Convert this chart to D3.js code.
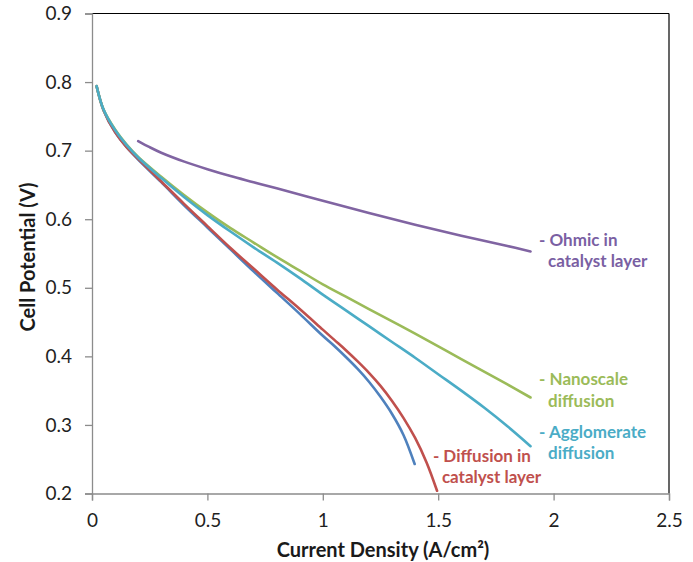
<!DOCTYPE html>
<html>
<head>
<meta charset="utf-8">
<script src="https://cdn.jsdelivr.net/npm/d3@7"></script>
<style>
  html, body { margin: 0; padding: 0; background: #fff; }
  svg { display: block; }
  text { font-family: Lato, "Open Sans", sans-serif; }
</style>
</head>
<body>
<svg id="chart" width="693" height="562"></svg>
<script>
// Polarization curves: current density (A/cm²) vs cell potential (V)
const xTicks = [0, 0.5, 1, 1.5, 2, 2.5];
const yTicks = [0.2, 0.3, 0.4, 0.5, 0.6, 0.7, 0.8, 0.9];

const blueX = [0.02, 0.05, 0.1, 0.15, 0.2, 0.3, 0.4, 0.5, 0.6, 0.7, 0.8, 0.9, 1.0, 1.05, 1.1, 1.15, 1.2, 1.25, 1.3, 1.35, 1.398];
const blueY = [0.794, 0.759, 0.727, 0.705, 0.687, 0.654, 0.620, 0.588, 0.556, 0.524, 0.493, 0.462, 0.430, 0.415, 0.399, 0.382, 0.363, 0.341, 0.316, 0.285, 0.243];

const redX = [0.02, 0.05, 0.1, 0.15, 0.2, 0.3, 0.4, 0.5, 0.6, 0.7, 0.8, 0.9, 1.0, 1.05, 1.1, 1.15, 1.2, 1.25, 1.3, 1.35, 1.4, 1.45, 1.495];
const redY = [0.794, 0.759, 0.727, 0.705, 0.688, 0.655, 0.622, 0.590, 0.558, 0.528, 0.498, 0.469, 0.439, 0.424, 0.409, 0.393, 0.376, 0.357, 0.335, 0.310, 0.281, 0.245, 0.204];

const greenX = [0.02, 0.05, 0.1, 0.15, 0.2, 0.3, 0.4, 0.5, 0.6, 0.7, 0.8, 0.9, 1.0, 1.1, 1.2, 1.4, 1.6, 1.8, 1.9];
const greenY = [0.794, 0.760, 0.731, 0.709, 0.691, 0.662, 0.635, 0.610, 0.587, 0.566, 0.545, 0.525, 0.505, 0.487, 0.469, 0.433, 0.396, 0.359, 0.340];

const cyanX = [0.02, 0.05, 0.1, 0.15, 0.2, 0.3, 0.4, 0.5, 0.6, 0.7, 0.8, 0.9, 1.0, 1.1, 1.2, 1.3, 1.4, 1.5, 1.6, 1.7, 1.8, 1.9];
const cyanY = [0.794, 0.760, 0.730, 0.708, 0.690, 0.660, 0.632, 0.606, 0.582, 0.559, 0.537, 0.514, 0.490, 0.467, 0.444, 0.421, 0.398, 0.374, 0.350, 0.325, 0.298, 0.269];

const purpleX = [0.2, 0.25, 0.3, 0.4, 0.5, 0.6, 0.7, 0.8, 1.0, 1.2, 1.4, 1.6, 1.8, 1.9];
const purpleY = [0.714, 0.705, 0.697, 0.684, 0.673, 0.663, 0.654, 0.645, 0.627, 0.609, 0.592, 0.576, 0.561, 0.553];

const series = [
  { xs: blueX,   ys: blueY,   color: "#4F81BD" },
  { xs: redX,    ys: redY,    color: "#C0504D" },
  { xs: greenX,  ys: greenY,  color: "#9BBB59" },
  { xs: cyanX,   ys: cyanY,   color: "#4BACC6" },
  { xs: purpleX, ys: purpleY, color: "#8064A2" }
];

// Curve annotations (two lines each)
const labels = [
  { lines: ["- Ohmic in", "catalyst layer"],    x: 1.937, y: 0.561, color: "#7A5FA3" },
  { lines: ["- Nanoscale", "diffusion"],         x: 1.937, y: 0.358, color: "#9BBB59" },
  { lines: ["- Agglomerate", "diffusion"],       x: 1.937, y: 0.281, color: "#4BACC6" },
  { lines: ["- Diffusion in", "catalyst layer"], x: 1.477, y: 0.246, color: "#C0504D" }
];

const svg = d3.select("#chart");
const x = d3.scaleLinear().domain([0, 2.5]).range([92, 669]);
const y = d3.scaleLinear().domain([0.2, 0.9]).range([493.5, 13.5]);

// Plot frame: black top and right edges
svg.append("line").attr("x1", x(0)).attr("x2", x(2.5)).attr("y1", y(0.9)).attr("y2", y(0.9))
  .attr("stroke", "#000").attr("stroke-width", 1.2);
svg.append("line").attr("x1", x(2.5)).attr("x2", x(2.5)).attr("y1", y(0.9)).attr("y2", y(0.2))
  .attr("stroke", "#000").attr("stroke-width", 1.2);

const axisColor = "#8c8c8c";

const xAxis = svg.append("g").attr("transform", `translate(0,${y(0.2)})`)
  .call(d3.axisBottom(x).tickValues(xTicks).tickFormat(d3.format("")).tickSize(7).tickPadding(13));
const yAxis = svg.append("g").attr("transform", `translate(${x(0)},0)`)
  .call(d3.axisLeft(y).tickValues(yTicks).tickFormat(d3.format(".1f")).tickSize(7).tickPadding(13));

[xAxis, yAxis].forEach(g => {
  g.select(".domain").attr("stroke", axisColor).attr("stroke-width", 1.3);
  g.selectAll(".tick line").attr("stroke", axisColor).attr("stroke-width", 1.3);
  g.selectAll(".tick text").attr("fill", "#1f1f1f").style("font-size", "19px")
    .style("font-family", "Lato, 'Open Sans', sans-serif");
});

// Curves
const line = d3.line().curve(d3.curveCatmullRom.alpha(0.5));
series.forEach(s => {
  const pts = s.xs.map((v, i) => [x(v), y(s.ys[i])]);
  svg.append("path").attr("d", line(pts)).attr("fill", "none")
    .attr("stroke", s.color).attr("stroke-width", 2.6).attr("stroke-linecap", "round");
});

// Annotations
labels.forEach(l => {
  const t = svg.append("text").attr("fill", l.color)
    .style("font-size", "17px").style("font-weight", "bold");
  l.lines.forEach((s, i) => {
    t.append("tspan").attr("x", x(l.x) + (i === 0 ? 0 : 9))
      .attr("y", y(l.y) + i * 21.5).text(s);
  });
});

// Axis titles
svg.append("text").attr("x", 383).attr("y", 557).attr("text-anchor", "middle")
  .attr("fill", "#1a1a1a").style("font-size", "20px").style("font-weight", "bold")
  .text("Current Density (A/cm²)");
svg.append("text").attr("transform", "translate(35,257) rotate(-90)").attr("text-anchor", "middle")
  .attr("fill", "#1a1a1a").style("font-size", "20px").style("font-weight", "bold")
  .text("Cell Potential (V)");
</script>
</body>
</html>
